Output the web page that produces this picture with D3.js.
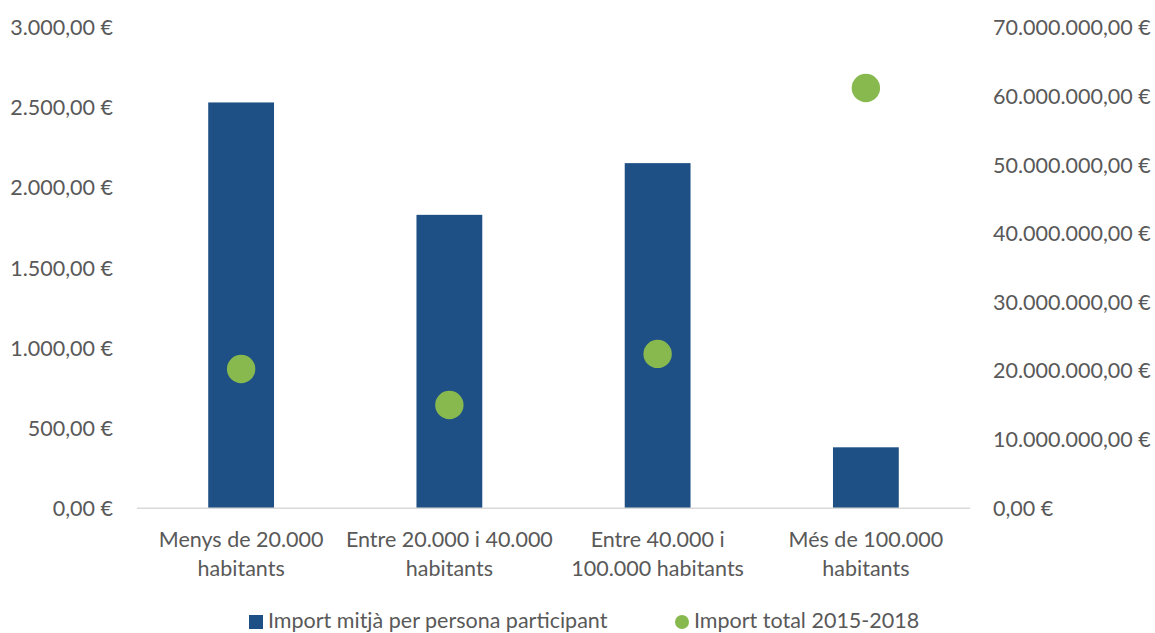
<!DOCTYPE html>
<html><head><meta charset="utf-8">
<script src="https://cdn.jsdelivr.net/npm/d3@7"></script>
<style>
body{margin:0;background:#fff;}
text{font-family:Lato, "Open Sans", sans-serif;fill:#595959;}
</style></head>
<body><svg id="c" width="1155" height="633"></svg>
<script>
const categories = [["Menys de 20.000","habitants"],["Entre 20.000 i 40.000","habitants"],["Entre 40.000 i","100.000 habitants"],["Més de 100.000","habitants"]];
const avgPerPerson = [2535, 1833, 2156, 381];
const totalImport = [20300000, 15050000, 22500000, 61250000];
const leftTicks = [0,500,1000,1500,2000,2500,3000];
const rightTicks = [0,10000000,20000000,30000000,40000000,50000000,60000000,70000000];
const seriesNames = ["Import mitjà per persona participant","Import total 2015-2018"];

const svg = d3.select("#c");
const M = {left:137, right:970, top:28, bottom:508.3};
const keys = categories.map((d,i)=>"c"+i);
const x = d3.scaleBand().domain(keys).range([M.left, M.right]).paddingInner(0.684).paddingOuter(0.342);
const yL = d3.scaleLinear().domain([0,3000]).range([M.bottom, M.top]);
const yR = d3.scaleLinear().domain([0,70000000]).range([M.bottom, M.top]);
const fmt = v => {
  const s = d3.format(",.2f")(v);
  return s.replace(/,/g,"#").replace(".",",").replace(/#/g,".") + " €";
};
const fs = 21.5;

// left axis
const gL = svg.append("g").attr("transform",`translate(113,0)`)
  .call(d3.axisLeft(yL).tickValues(leftTicks).tickSize(0).tickPadding(0).tickFormat(fmt));
gL.select(".domain").remove();
gL.selectAll("text").style("font-size",fs+"px").attr("fill","#595959");

// right axis
const gR = svg.append("g").attr("transform",`translate(993,0)`)
  .call(d3.axisRight(yR).tickValues(rightTicks).tickSize(0).tickPadding(0).tickFormat(fmt));
gR.select(".domain").remove();
gR.selectAll("text").style("font-size",fs+"px").attr("fill","#595959");

// bars
svg.append("g").selectAll("rect").data(avgPerPerson).join("rect")
  .attr("x",(d,i)=>x(keys[i])).attr("width",x.bandwidth())
  .attr("y",d=>yL(d)).attr("height",d=>yL(0)-yL(d))
  .attr("fill","#1f5085");

// baseline
svg.append("line").attr("x1",M.left).attr("x2",M.right).attr("y1",M.bottom).attr("y2",M.bottom)
  .attr("stroke","#d9d9d9").attr("stroke-width",1.5);

// dots
svg.append("g").selectAll("circle").data(totalImport).join("circle")
  .attr("cx",(d,i)=>x(keys[i])+x.bandwidth()/2).attr("cy",d=>yR(d)).attr("r",14.2)
  .attr("fill","#88b94f");

// category labels
const cl = svg.append("g").selectAll("text").data(categories).join("text")
  .attr("text-anchor","middle").style("font-size",fs+"px")
  .attr("transform",(d,i)=>`translate(${x(keys[i])+x.bandwidth()/2},0)`);
cl.selectAll("tspan").data(d=>d).join("tspan").attr("x",0)
  .attr("y",(d,j)=>547+j*29).text(d=>d);

// legend
const lg = svg.append("g");
lg.append("rect").attr("x",249).attr("y",615).attr("width",14).attr("height",14).attr("fill","#1f5085");
lg.append("text").attr("x",268).attr("y",628).style("font-size",fs+"px").text(seriesNames[0]);
lg.append("circle").attr("cx",682).attr("cy",622).attr("r",7).attr("fill","#88b94f");
lg.append("text").attr("x",694).attr("y",628).style("font-size",fs+"px").text(seriesNames[1]);
</script></body></html>
